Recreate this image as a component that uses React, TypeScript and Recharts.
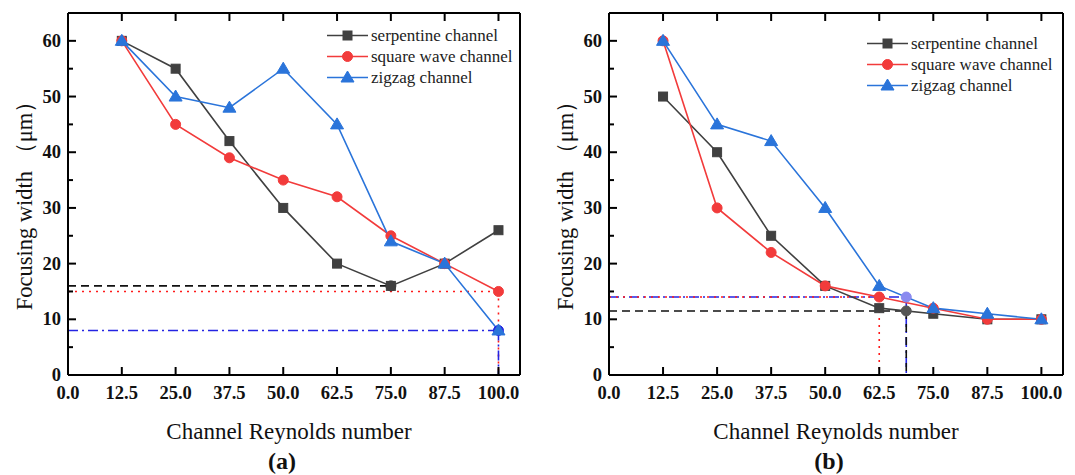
import React from 'react';
import { LineChart, Line, XAxis, YAxis, ReferenceLine, ReferenceDot, Legend } from 'recharts';

const FONT = "'Liberation Serif', 'Times New Roman', serif";

// Data
const reynolds = [12.5, 25, 37.5, 50, 62.5, 75, 87.5, 100];
const xTicks = [0, 12.5, 25, 37.5, 50, 62.5, 75, 87.5, 100];
const yTicks = [0, 5, 10, 15, 20, 25, 30, 35, 40, 45, 50, 55, 60];
const seriesNames = ['serpentine channel', 'square wave channel', 'zigzag channel'];

const serpentineA = [60, 55, 42, 30, 20, 16, 20, 26];
const squareA = [60, 45, 39, 35, 32, 25, 20, 15];
const zigzagA = [60, 50, 48, 55, 45, 24, 20, 8];

const serpentineB = [50, 40, 25, 16, 12, 11, 10, 10];
const squareB = [60, 30, 22, 16, 14, 12, 10, 10];
const zigzagB = [60, 45, 42, 30, 16, 12, 11, 10];

// reference (critical) points [x, y]
const serpentineMarkA = [75, 16];
const squareMarkA = [100, 15];
const zigzagMarkA = [100, 8];
const serpentineMarkB = [68.75, 11.5];
const squareMarkB = [62.5, 14];
const zigzagMarkB = [68.75, 14];

const GRAY = '#404040';
const RED = '#f23b3b';
const BLUE = '#2a74da';
const REF_BLACK = '#111111';
const REF_RED = '#ff1a1a';
const REF_BLUE = '#2424e2';

const buildRows = (s: number[], q: number[], z: number[]) =>
  reynolds.map((x, i) => ({ x, serp: s[i], square: q[i], zig: z[i] }));

const drawMarker = (kind: string, cx: number, cy: number, color: string, key?: string) => {
  if (kind === 'serp')
    return <rect key={key} x={cx - 4.5} y={cy - 4.5} width={9} height={9} fill={color} stroke={color} />;
  if (kind === 'square') return <circle key={key} cx={cx} cy={cy} r={5} fill={color} stroke={color} />;
  return (
    <polygon
      key={key}
      points={`${cx},${cy - 6.5} ${cx - 6.5},${cy + 4.5} ${cx + 6.5},${cy + 4.5}`}
      fill={color}
      stroke={color}
    />
  );
};

const dotFn = (kind: string, color: string) => (p: any) => {
  if (p.cx == null || p.cy == null) return <g key={`${kind}-${p.index}`} />;
  return drawMarker(kind, p.cx, p.cy, color, `${kind}-${p.index}`);
};

const tickText = { fontFamily: FONT, fontSize: 18.5, fontWeight: 700, fill: '#111' } as const;

const BottomTick = (props: any) => {
  const { x, y, payload } = props;
  return (
    <g>
      <line x1={x} y1={y} x2={x} y2={y - 8} stroke="#000" strokeWidth={2} />
      <text x={x} y={y + 24} textAnchor="middle" style={tickText}>
        {Number(payload.value).toFixed(1)}
      </text>
    </g>
  );
};

const TopTick = (props: any) => {
  const { x, y } = props;
  return <line x1={x} y1={y} x2={x} y2={y + 8} stroke="#000" strokeWidth={2} />;
};

const LeftTick = (props: any) => {
  const { x, y, payload } = props;
  const major = payload.value % 10 === 0;
  return (
    <g>
      <line x1={x} y1={y} x2={x + (major ? 8 : 5)} y2={y} stroke="#000" strokeWidth={2} />
      {major && (
        <text x={x - 7} y={y + 6} textAnchor="end" style={tickText}>
          {payload.value}
        </text>
      )}
    </g>
  );
};

const RightTick = (props: any) => {
  const { x, y, payload } = props;
  const major = payload.value % 10 === 0;
  return <line x1={x} y1={y} x2={x - (major ? 8 : 5)} y2={y} stroke="#000" strokeWidth={2} />;
};

const kindOf = (dataKey: any) => (dataKey === 'serp' ? 'serp' : dataKey === 'square' ? 'square' : 'zig');

const LegendContent = (props: any) => {
  const items = props.payload || [];
  return (
    <div style={{ fontFamily: FONT, fontSize: 17, color: '#222' }}>
      {items.map((it: any, i: number) => (
        <div key={i} style={{ display: 'flex', alignItems: 'center', height: 21 }}>
          <svg width={41} height={21} style={{ display: 'block' }}>
            <line x1={0} x2={41} y1={10.5} y2={10.5} stroke={it.color} strokeWidth={1.5} />
            {drawMarker(kindOf(it.dataKey), 20.5, 10.5, it.color)}
          </svg>
          <span style={{ marginLeft: 3, whiteSpace: 'nowrap', lineHeight: '21px' }}>{it.value}</span>
        </div>
      ))}
    </div>
  );
};

type RefSpec = { pt: number[]; color: string; dash: string; vertical: boolean; dot?: string };

type PanelProps = {
  left: number;
  width: number;
  plotLeft: number;
  plotRight: number;
  serp: number[];
  square: number[];
  zig: number[];
  refs: RefSpec[];
  legendLeft: number;
  legendTop: number;
  tag: string;
  tagOffset: number;
  titleOffset: number;
};

const PLOT_TOP = 13;
const PLOT_BOTTOM = 375;
const HEIGHT = 475;
const XAXIS_H = 40;
const YAXIS_W = 50;
const SIDE = 4;

function Panel(p: PanelProps) {
  const rows = buildRows(p.serp, p.square, p.zig);
  const plotCenter = (p.plotLeft + p.plotRight) / 2 - p.left;
  return (
    <div style={{ position: 'absolute', left: p.left, top: 0, width: p.width, height: HEIGHT }}>
      <LineChart
        width={p.width}
        height={HEIGHT}
        data={rows}
        margin={{
          top: PLOT_TOP - SIDE,
          left: p.plotLeft - p.left - YAXIS_W,
          right: p.left + p.width - p.plotRight - SIDE,
          bottom: HEIGHT - PLOT_BOTTOM - XAXIS_H,
        }}
      >
        <XAxis
          dataKey="x"
          type="number"
          domain={[0, 105]}
          ticks={xTicks}
          interval={0}
          height={XAXIS_H}
          tickSize={0}
          tickMargin={0}
          tickLine={false}
          axisLine={{ stroke: '#000', strokeWidth: 2 }}
          tick={<BottomTick />}
        />
        <XAxis
          xAxisId="top"
          orientation="top"
          dataKey="x"
          type="number"
          domain={[0, 105]}
          ticks={xTicks}
          interval={0}
          height={SIDE}
          tickSize={0}
          tickMargin={0}
          tickLine={false}
          axisLine={{ stroke: '#000', strokeWidth: 2 }}
          tick={<TopTick />}
        />
        <YAxis
          type="number"
          domain={[0, 65]}
          ticks={yTicks}
          interval={0}
          width={YAXIS_W}
          tickSize={0}
          tickMargin={0}
          tickLine={false}
          axisLine={{ stroke: '#000', strokeWidth: 2 }}
          tick={<LeftTick />}
        />
        <YAxis
          yAxisId="right"
          orientation="right"
          type="number"
          domain={[0, 65]}
          ticks={yTicks}
          interval={0}
          width={SIDE}
          tickSize={0}
          tickMargin={0}
          tickLine={false}
          axisLine={{ stroke: '#000', strokeWidth: 2 }}
          tick={<RightTick />}
        />
        {p.refs.map((r, i) => (
          <ReferenceLine
            key={`h${i}`}
            segment={[{ x: 0, y: r.pt[1] }, { x: r.pt[0], y: r.pt[1] }]}
            stroke={r.color}
            strokeWidth={1.6}
            strokeDasharray={r.dash}
            ifOverflow="visible"
          />
        ))}
        {p.refs
          .filter((r) => r.vertical)
          .map((r, i) => (
            <ReferenceLine
              key={`v${i}`}
              segment={[{ x: r.pt[0], y: r.pt[1] }, { x: r.pt[0], y: 0 }]}
              stroke={r.color}
              strokeWidth={1.6}
              strokeDasharray={r.dash}
              ifOverflow="visible"
            />
          ))}
        <Line
          name={seriesNames[0]}
          dataKey="serp"
          stroke={GRAY}
          strokeWidth={1.6}
          dot={dotFn('serp', GRAY)}
          activeDot={false}
          isAnimationActive={false}
        />
        <Line
          name={seriesNames[1]}
          dataKey="square"
          stroke={RED}
          strokeWidth={1.6}
          dot={dotFn('square', RED)}
          activeDot={false}
          isAnimationActive={false}
        />
        <Line
          name={seriesNames[2]}
          dataKey="zig"
          stroke={BLUE}
          strokeWidth={1.6}
          dot={dotFn('zig', BLUE)}
          activeDot={false}
          isAnimationActive={false}
        />
        {p.refs
          .filter((r) => r.dot)
          .map((r, i) => (
            <ReferenceDot key={`d${i}`} x={r.pt[0]} y={r.pt[1]} r={5} fill={r.dot} stroke={r.dot} ifOverflow="visible" />
          ))}
        <Legend
          layout="horizontal"
          verticalAlign="middle"
          align="center"
          wrapperStyle={{ left: p.legendLeft, top: p.legendTop, width: 'auto' }}
          content={<LegendContent />}
        />
      </LineChart>
      <div
        style={{
          position: 'absolute',
          left: p.plotLeft - p.left - 43,
          top: 200,
          transform: 'translate(-50%, -50%) rotate(-90deg)',
          fontFamily: FONT,
          fontSize: 22.5,
          color: '#111',
          whiteSpace: 'nowrap',
          lineHeight: 1,
        }}
      >
        Focusing width （μm）
      </div>
      <div
        style={{
          position: 'absolute',
          left: plotCenter + p.titleOffset,
          top: 431,
          transform: 'translate(-50%, -50%)',
          fontFamily: FONT,
          fontSize: 23,
          color: '#111',
          whiteSpace: 'nowrap',
          lineHeight: 1,
        }}
      >
        Channel Reynolds number
      </div>
      <div
        style={{
          position: 'absolute',
          left: plotCenter + p.tagOffset,
          top: 461,
          transform: 'translate(-50%, -50%)',
          fontFamily: FONT,
          fontSize: 24,
          fontWeight: 700,
          color: '#111',
          whiteSpace: 'nowrap',
          lineHeight: 1,
        }}
      >
        {p.tag}
      </div>
    </div>
  );
}

export default function App() {
  const refsA: RefSpec[] = [
    { pt: serpentineMarkA, color: REF_BLACK, dash: '8 5', vertical: false, dot: '#333333' },
    { pt: squareMarkA, color: REF_RED, dash: '2 5', vertical: true },
    { pt: zigzagMarkA, color: REF_BLUE, dash: '10 4 2 4', vertical: true, dot: REF_BLUE },
  ];
  const refsB: RefSpec[] = [
    { pt: zigzagMarkB, color: REF_BLUE, dash: '10 4 2 4', vertical: true, dot: '#8a8af0' },
    { pt: squareMarkB, color: REF_RED, dash: '2 5', vertical: true },
    { pt: serpentineMarkB, color: REF_BLACK, dash: '8 5', vertical: true, dot: '#555555' },
  ];
  return (
    <div style={{ position: 'absolute', left: 0, top: 0, width: 1075, height: 475, background: '#fff' }}>
      <Panel
        left={0}
        width={540}
        plotLeft={68}
        plotRight={520}
        serp={serpentineA}
        square={squareA}
        zig={zigzagA}
        refs={refsA}
        legendLeft={327}
        legendTop={25}
        tag="(a)"
        tagOffset={-12}
        titleOffset={-5}
      />
      <Panel
        left={540}
        width={535}
        plotLeft={609}
        plotRight={1063}
        serp={serpentineB}
        square={squareB}
        zig={zigzagB}
        refs={refsB}
        legendLeft={327}
        legendTop={33}
        tag="(b)"
        tagOffset={-7}
        titleOffset={0}
      />
    </div>
  );
}
